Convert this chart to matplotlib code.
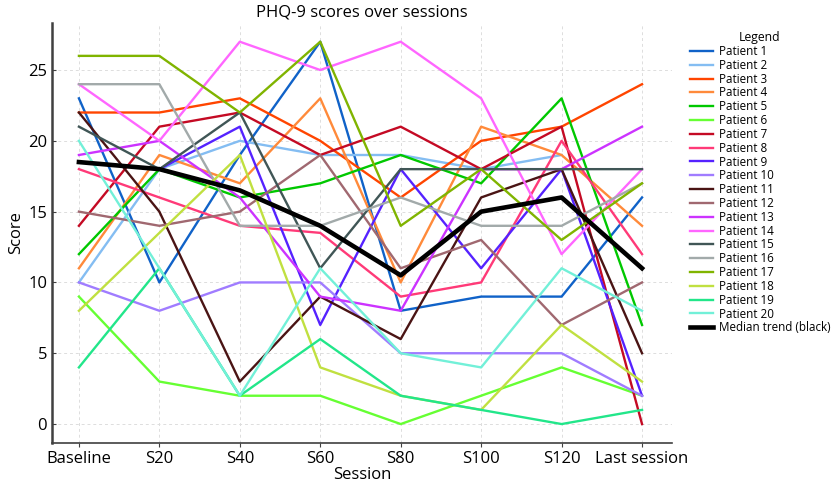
import numpy as np
import matplotlib
matplotlib.use("Agg")
import matplotlib.pyplot as plt

plt.rcParams['font.family'] = ['Open Sans', 'DejaVu Sans']

sessions = ["Baseline", "S20", "S40", "S60", "S80", "S100", "S120", "Last session"]
nan = np.nan

# PHQ-9 scores per patient (nan = no value)
p1 = [23, 10, 19, 27, 8, 9, 9, 16]
p2 = [10, 18, 20, 19, 19, 18, 19, nan]
p3 = [22, 22, 23, 20, 16, 20, 21, 24]
p4 = [11, 19, 17, 23, 10, 21, 19, 14]
p5 = [12, 18, 16, 17, 19, 17, 23, 7]
p6 = [9, 3, 2, 2, 0, 2, 4, 2]
p7 = [14, 21, 22, 19, 21, 18, 21, 0]
p8 = [18, 16, 14, 13.5, 9, 10, 20, 12]
p9 = [nan, 18, 21, 7, 18, 11, 18, 2]
p10 = [10, 8, 10, 10, 5, 5, 5, 2]
p11 = [22, 15, 3, 9, 6, 16, 18, 5]
p12 = [15, 14, 15, 19, 11, 13, 7, 10]
p13 = [19, 20, 16, 9, 8, 18, 18, 21]
p14 = [24, 20, 27, 25, 27, 23, 12, 18]
p15 = [21, 18, 22, 11, 18, 18, 18, 18]
p16 = [24, 24, 14, 14, 16, 14, 14, 17]
p17 = [26, 26, 22, 27, 14, 18, 13, 17]
p18 = [8, 13.5, 19, 4, 2, 1, 7, 3]
p19 = [4, 11, 2, 6, 2, 1, 0, 1]
p20 = [20, 11, 2, 11, 5, 4, 11, 8]
median = [18.5, 18, 16.5, 14, 10.5, 15, 16, 11]

patients = [p1, p2, p3, p4, p5, p6, p7, p8, p9, p10,
            p11, p12, p13, p14, p15, p16, p17, p18, p19, p20]
colors = ["#1062c8", "#84bdf2", "#ff4500", "#ff8a3a", "#00c800",
          "#66ff33", "#c40a24", "#ff3a78", "#5522ff", "#a07cff",
          "#4a1414", "#a06870", "#cc33ff", "#ff66ff", "#405656",
          "#a2aaaa", "#80b400", "#c0e040", "#22e68a", "#72f0d8"]

fig = plt.figure(figsize=(8.37, 4.95), dpi=100)
ax = fig.add_axes([0.0621, 0.105, 0.741, 0.8485])

x = np.arange(len(sessions))
for i, (vals, c) in enumerate(zip(patients, colors)):
    ax.plot(x, vals, color=c, lw=1.7, label=f"Patient {i + 1}")
ax.plot(x, median, color="black", lw=3.3, label="Median trend (black)")

ax.set_xlim(-0.335, 7.375)
ax.set_ylim(-1.34, 28.32)
ax.set_xticks(x)
ax.set_xticklabels(sessions, fontsize=12)
ax.set_yticks([0, 5, 10, 15, 20, 25])
ax.tick_params(axis="y", labelsize=12, direction="in", length=3, color="#404040")
ax.tick_params(axis="x", direction="out", length=3, color="#404040", pad=3)
ax.set_xlabel("Session", fontsize=12, labelpad=0)
ax.set_ylabel("Score", fontsize=12, labelpad=3)
ax.set_title("PHQ-9 scores over sessions", fontsize=12, pad=5)
ax.grid(True, color="#dddddd", ls=(0, (3, 3)), lw=0.7)
for side in ("top", "right"):
    ax.spines[side].set_visible(False)
ax.spines["left"].set_color("#404040")
ax.spines["left"].set_linewidth(1.8)
ax.spines["bottom"].set_color("#404040")
ax.spines["bottom"].set_linewidth(1.2)

ax.legend(title="Legend", loc="upper left", bbox_to_anchor=(1.015, 1.0),
          frameon=False, fontsize=8.4, title_fontsize=8.8, labelspacing=0.07,
          handlelength=2.0, handletextpad=0.5, borderaxespad=0.3)

fig.savefig("out.png", dpi=100, facecolor="white")
